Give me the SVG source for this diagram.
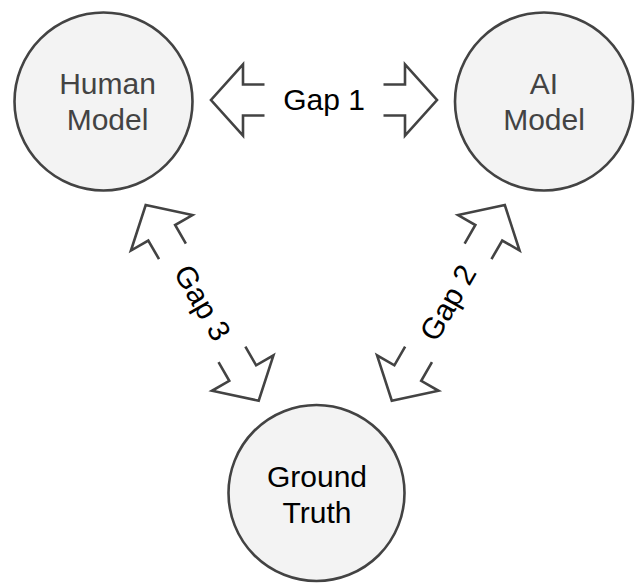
<svg xmlns="http://www.w3.org/2000/svg" width="636" height="584" viewBox="0 0 636 584">
  <style>
    .node { fill: #f3f3f3; stroke: #434343; stroke-width: 2.6; }
    .arrow { fill: none; stroke: #434343; stroke-width: 2.6; stroke-linejoin: miter; }
    .t { font-family: "Liberation Sans", Arial, sans-serif; font-size: 30px; text-anchor: middle; }
    .grey { fill: #434343; }
    .black { fill: #000000; }
  </style>
  <defs>
    <g id="dbl">
      <polyline class="arrow" points="-59.5,-15.5 -81,-15.5 -81,-35.5 -113,0 -81,35.5 -81,15.5 -59.5,15.5"/>
      <polyline class="arrow" points="59.5,-15.5 81,-15.5 81,-35.5 113,0 81,35.5 81,15.5 59.5,15.5"/>
    </g>
  </defs>
  <rect width="636" height="584" fill="#ffffff"/>
  <g id="human-model">
    <circle class="node" cx="103.5" cy="101.5" r="89"/>
    <text class="t grey" x="107.5" y="94">Human</text>
    <text class="t grey" x="107.5" y="130">Model</text>
  </g>
  <g id="ai-model">
    <circle class="node" cx="544" cy="101.5" r="89"/>
    <text class="t grey" x="544" y="94">AI</text>
    <text class="t grey" x="544" y="130">Model</text>
  </g>
  <g id="ground-truth">
    <circle class="node" cx="316.5" cy="493" r="88"/>
    <text class="t black" x="317" y="487">Ground</text>
    <text class="t black" x="317" y="523">Truth</text>
  </g>
  <g id="connectors">
    <g id="gap1">
      <use href="#dbl" transform="translate(324,100)"/>
      <text class="t black" x="324" y="109.5">Gap 1</text>
    </g>
    <g id="gap3" transform="translate(202.2,302.9) rotate(60)">
      <use href="#dbl"/>
      <text class="t black" x="0" y="10">Gap 3</text>
    </g>
    <g id="gap2" transform="translate(448.3,302.9) rotate(-60)">
      <use href="#dbl"/>
      <text class="t black" x="0" y="10">Gap 2</text>
    </g>
  </g>
</svg>
